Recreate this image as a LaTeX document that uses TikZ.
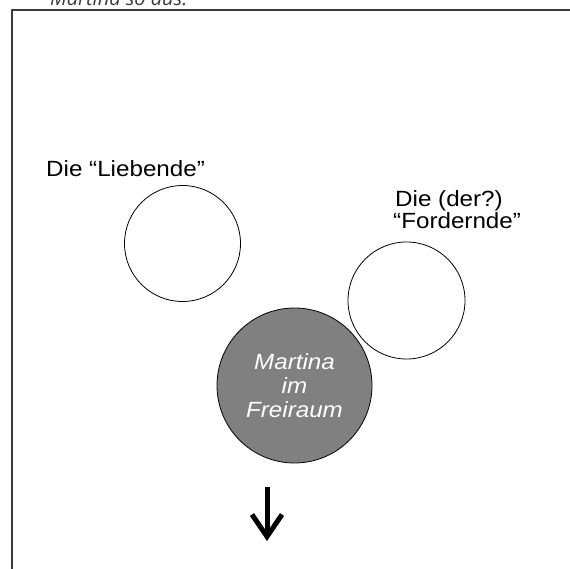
\documentclass[tikz,border=0pt]{standalone}
\usepackage{fontspec}
\setmainfont{Liberation Sans}
\newfontfamily\beschrift[FakeStretch=1.1]{Liberation Sans}
\newfontfamily\kopfschrift{Open Sans}
\usetikzlibrary{arrows.meta}
\definecolor{grau}{RGB}{128,128,128}
\definecolor{rahmen}{RGB}{60,60,60}

\begin{document}
\begin{tikzpicture}[x=1pt,y=-1pt]
\useasboundingbox (0,0) rectangle (570,569);
\clip (0,0) rectangle (570,569);
\tikzset{label/.style={anchor=base west,inner sep=0,font=\beschrift\fontsize{22}{24}\selectfont},
kreis/.style={draw,circle,inner sep=0,line width=0.8pt}}

\node[anchor=base west,inner sep=0,text=rahmen,font=\kopfschrift\itshape\fontsize{20}{24}\selectfont] (kopf) at (50,6) {Martina so aus:};
\draw [line width=1.5pt,rahmen] (12,569)--(12,10)--(570,10);

\node[label] (liebendeText) at (46,177) {Die “Liebende”};
\node[label] (fordernA) at (395,207) {Die (der?)};
\node[label] (fordernB) at (393,229) {“Fordernde”};

\node[kreis,minimum size=116pt] (liebende) at (182.5,243.5) {};
\node[kreis,minimum size=117pt] (fordernde) at (406.5,300.5) {};
\node[kreis,fill=grau,minimum size=155pt,text=white,align=center,
  font=\beschrift\itshape\fontsize{22}{24}\selectfont] (martina) at (294.5,385.5) {Martina\\im\\Freiraum};

\coordinate (pfeilOben) at (267,487);
\coordinate (pfeilUnten) at (267,541);
\draw [line width=5pt,-{Straight Barb[length=22pt,width=30pt,line width=5pt]}] (pfeilOben)--(pfeilUnten);

\end{tikzpicture}
\end{document}
